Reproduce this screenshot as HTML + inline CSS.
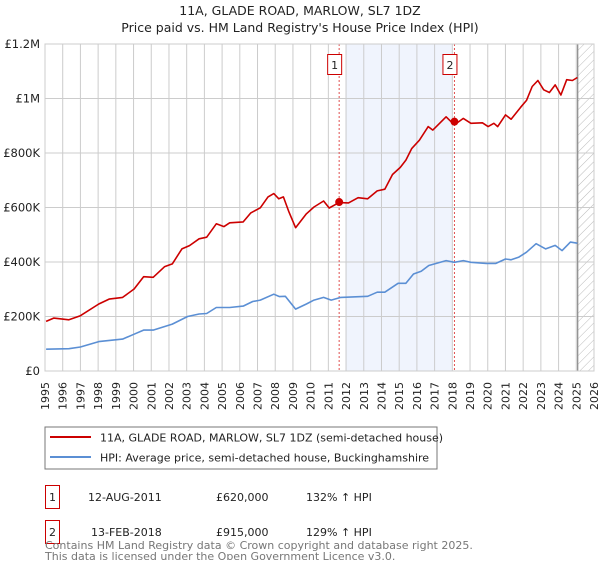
<!DOCTYPE html>
<html><head><meta charset="utf-8"><style>
body{margin:0;background:#fff;font-family:"Liberation Sans","DejaVu Sans",sans-serif;}
svg text{font-family:"DejaVu Sans","Liberation Sans",sans-serif;}
</style></head><body>
<svg id="c" width="600" height="560" xmlns="http://www.w3.org/2000/svg">
<defs><pattern id="hatch" width="6" height="6" patternUnits="userSpaceOnUse" patternTransform="rotate(45)"><line x1="0" y1="0" x2="0" y2="6" stroke="#bbb" stroke-width="1"/></pattern></defs>
<text x="300" y="15" text-anchor="middle" font-size="12.5" fill="#222">11A, GLADE ROAD, MARLOW, SL7 1DZ</text>
<text x="300" y="32" text-anchor="middle" font-size="12.5" fill="#222">Price paid vs. HM Land Registry's House Price Index (HPI)</text>
<g id="plot"></g>
<rect x="45" y="427" width="392" height="42" fill="#fff" stroke="#777"/>
<line x1="50" y1="437" x2="91" y2="437" stroke="#cc0000" stroke-width="2"/>
<text x="100" y="441.5" font-size="11" fill="#222">11A, GLADE ROAD, MARLOW, SL7 1DZ (semi-detached house)</text>
<line x1="50" y1="457" x2="91" y2="457" stroke="#5b8fd4" stroke-width="2"/>
<text x="100" y="461.5" font-size="11" fill="#222">HPI: Average price, semi-detached house, Buckinghamshire</text>
<rect x="45.5" y="485.5" width="14" height="23" fill="#fff" stroke="#cc0000"/>
<text x="52.5" y="501" text-anchor="middle" font-size="11" fill="#222">1</text>
<text x="88" y="501" font-size="11" fill="#222">12-AUG-2011</text>
<text x="216" y="501" font-size="11" fill="#222">£620,000</text>
<text x="306" y="501" font-size="11" fill="#222">132% ↑ HPI</text>
<rect x="45.5" y="520.5" width="14" height="23" fill="#fff" stroke="#cc0000"/>
<text x="52.5" y="536" text-anchor="middle" font-size="11" fill="#222">2</text>
<text x="91" y="536" font-size="11" fill="#222">13-FEB-2018</text>
<text x="216" y="536" font-size="11" fill="#222">£915,000</text>
<text x="306" y="536" font-size="11" fill="#222">129% ↑ HPI</text>
<text x="45" y="549" font-size="11" fill="#777">Contains HM Land Registry data © Crown copyright and database right 2025.</text>
<text x="45" y="560" font-size="11" fill="#777">This data is licensed under the Open Government Licence v3.0.</text>
</svg>
<script>
const yearTicks=[1995,1996,1997,1998,1999,2000,2001,2002,2003,2004,2005,2006,2007,2008,2009,2010,2011,2012,2013,2014,2015,2016,2017,2018,2019,2020,2021,2022,2023,2024,2025,2026];
const valueTicks=[0,200000,400000,600000,800000,1000000,1200000];
const valueTickLabels=["£0","£200K","£400K","£600K","£800K","£1M","£1.2M"];
const priceYears=[1995.06,1995.49,1996.35,1997.0,1998.04,1998.62,1999.38,2000.03,2000.57,2001.11,2001.76,2002.19,2002.73,2003.16,2003.7,2004.13,2004.67,2005.11,2005.43,2006.19,2006.62,2007.16,2007.59,2007.92,2008.2,2008.46,2008.78,2009.15,2009.76,2010.19,2010.73,2011.05,2011.6,2012.14,2012.68,2013.22,2013.76,2014.19,2014.62,2015.06,2015.38,2015.71,2016.14,2016.64,2016.9,2017.65,2018.12,2018.62,2019.05,2019.7,2020.02,2020.35,2020.56,2021.0,2021.32,2021.86,2022.19,2022.51,2022.83,2023.16,2023.48,2023.81,2024.13,2024.46,2024.78,2025.06];
const priceValues=[182000,194000,188000,203000,246000,264000,270000,301000,346000,344000,383000,393000,448000,460000,485000,491000,540000,530000,544000,547000,580000,599000,639000,651000,632000,639000,583000,526000,577000,602000,624000,598000,618000,617000,636000,632000,661000,667000,721000,747000,774000,817000,847000,897000,884000,933000,903000,927000,909000,911000,897000,909000,897000,940000,924000,968000,993000,1044000,1066000,1032000,1022000,1050000,1013000,1069000,1066000,1077000];
const hpiYears=[1995.06,1996.35,1997.0,1998.04,1999.38,2000.03,2000.57,2001.11,2002.19,2003.05,2003.7,2004.13,2004.67,2005.43,2006.19,2006.73,2007.16,2007.92,2008.24,2008.57,2009.15,2009.76,2010.19,2010.73,2011.16,2011.7,2013.22,2013.76,2014.19,2014.94,2015.38,2015.81,2016.24,2016.67,2017.65,2018.12,2018.62,2019.05,2019.92,2020.46,2021.0,2021.32,2021.76,2022.19,2022.73,2023.27,2023.81,2024.2,2024.67,2025.06];
const hpiValues=[80000,82000,88000,108000,117000,135000,150000,150000,172000,200000,209000,211000,233000,233000,238000,255000,260000,282000,273000,274000,227000,246000,260000,270000,260000,270000,274000,289000,289000,322000,322000,356000,366000,387000,405000,399000,405000,399000,395000,395000,411000,408000,418000,436000,467000,448000,461000,442000,473000,469000];
const saleLabels=["1","2"];
const saleYears=[2011.61,2018.12];
const saleValues=[620000,915000];
const shadeRange=[2011.96,2018.0];
const dataEnd=2025.08;

const L=45,R=594,T=44,B=371,X0=1995,X1=2026,YMAX=1200000;
const xs=y=>L+(y-X0)/(X1-X0)*(R-L);
const ys=v=>B-v/YMAX*(B-T);
const NS="http://www.w3.org/2000/svg";
const g=document.getElementById('plot');
function mk(tag,attrs,parent){const e=document.createElementNS(NS,tag);for(const k in attrs)e.setAttribute(k,attrs[k]);(parent||g).appendChild(e);return e;}

let e=mk('rect',{x:xs(shadeRange[0]),y:T,width:xs(shadeRange[1])-xs(shadeRange[0]),height:B-T,fill:'#f0f4fd'});


e=mk('rect',{x:xs(dataEnd),y:T,width:R-xs(dataEnd),height:B-T,fill:'url(#hatch)'});


yearTicks.forEach(y=>{
  const l=mk('line',{x1:xs(y),x2:xs(y),y1:T,y2:B,stroke:'#ccc','stroke-width':1});
  
  
  const x=xs(y);
  const t=mk('text',{x:0,y:0,'font-size':11,fill:'#222','text-anchor':'end',transform:`translate(${x+4},${B+11}) rotate(-90)`});
  t.textContent=y;
  
  
});
valueTicks.forEach((v,i)=>{
  const l=mk('line',{x1:L,x2:R,y1:ys(v),y2:ys(v),stroke:'#ccc','stroke-width':1});
  
  
  const t=mk('text',{x:40,y:ys(v)+4,'font-size':11.5,fill:'#222','text-anchor':'end'});
  t.textContent=valueTickLabels[i];
  
  
});
e=mk('line',{x1:xs(dataEnd),x2:xs(dataEnd),y1:T,y2:B,stroke:'#888','stroke-width':1.2});


saleYears.forEach((y,i)=>{
  const l=mk('line',{x1:xs(y),x2:xs(y),y1:T,y2:B,stroke:'#e05050','stroke-width':1,'stroke-dasharray':'2,2'});
  
  
});
function path(xsArr,vs,color,name){
  const d=xsArr.map((y,i)=>(i?'L':'M')+xs(y).toFixed(1)+','+ys(vs[i]).toFixed(1)).join('');
  const p=mk('path',{d:d,fill:'none',stroke:color,'stroke-width':1.6,'stroke-linejoin':'round'});
  
  
}
path(hpiYears,hpiValues,'#5b8fd4','hpi-line');
path(priceYears,priceValues,'#cc0000','price-line');
saleYears.forEach((y,i)=>{
  const c=mk('circle',{cx:xs(y),cy:ys(saleValues[i]),r:4,fill:'#cc0000'});
  
  
  const bx=xs(y)-7-(i?4:4);
  const r=mk('rect',{x:xs(y)-11.5,y:54.5,width:14,height:20,fill:'#fff',stroke:'#cc0000'});
  
  
  const t=mk('text',{x:xs(y)-4.5,y:69,'font-size':11,fill:'#222','text-anchor':'middle'});
  t.textContent=saleLabels[i];
  
  
});
e=mk('rect',{x:L,y:T,width:R-L,height:B-T,fill:'none',stroke:'#ccc'});


</script>
</body></html>
